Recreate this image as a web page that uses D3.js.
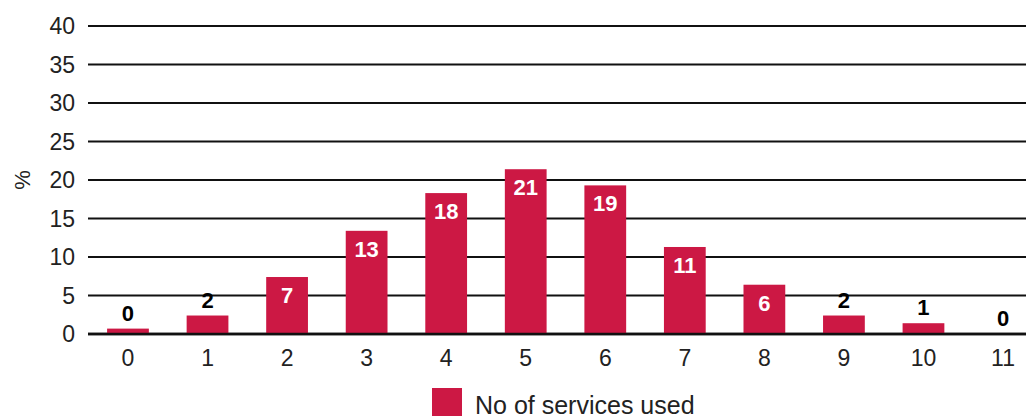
<!DOCTYPE html>
<html>
<head>
<meta charset="utf-8">
<script src="https://cdn.jsdelivr.net/npm/d3@7"></script>
<style>
  body { margin: 0; background: #fff; font-family: "Liberation Sans", Arial, sans-serif; }
  svg { display: block; }
</style>
</head>
<body>
<div id="container"><svg></svg></div>
<script>
let width = 1026;
let height = 416;

// data
let categories = ['0', '1', '2', '3', '4', '5', '6', '7', '8', '9', '10', '11'];
let values = [0.7, 2.4, 7.4, 13.4, 18.3, 21.4, 19.3, 11.3, 6.4, 2.4, 1.4, 0];
let labels = ['0', '2', '7', '13', '18', '21', '19', '11', '6', '2', '1', '0'];
let yTicks = [0, 5, 10, 15, 20, 25, 30, 35, 40];
let seriesName = 'No of services used';

let barColor = '#cc1844';
let padding = { left: 88, right: -17, top: 26, bottom: 82 };

function draw_main() {
    let svg = d3.select('#container').select('svg')
        .attr('width', width)
        .attr('height', height);

    let x = d3.scaleBand()
        .domain(categories)
        .range([padding.left, width - padding.right])
        .paddingInner(0.475)
        .paddingOuter(0.24);

    let y = d3.scaleLinear()
        .domain([0, 40])
        .range([height - padding.bottom, padding.top]);

    // gridlines
    svg.append('g')
        .selectAll('line')
        .data(yTicks)
        .enter().append('line')
        .attr('x1', padding.left)
        .attr('x2', width)
        .attr('y1', d => y(d))
        .attr('y2', d => y(d))
        .attr('stroke', '#111')
        .attr('stroke-width', d => d == 0 ? 2.5 : 2);

    // y tick labels
    svg.append('g')
        .selectAll('text')
        .data(yTicks)
        .enter().append('text')
        .attr('x', 75)
        .attr('y', d => y(d))
        .attr('dy', '0.36em')
        .attr('text-anchor', 'end')
        .attr('font-size', 23)
        .attr('fill', '#222')
        .text(d => d);

    // y axis title
    svg.append('text')
        .attr('transform', `translate(30, ${y(20)}) rotate(-90)`)
        .attr('text-anchor', 'middle')
        .attr('font-size', 22)
        .attr('fill', '#222')
        .text('%');

    // bars
    svg.append('g')
        .selectAll('rect')
        .data(values)
        .enter().append('rect')
        .attr('x', (d, i) => x(categories[i]))
        .attr('y', d => y(d))
        .attr('width', x.bandwidth())
        .attr('height', d => y(0) - y(d))
        .attr('fill', barColor);

    // redraw baseline on top of bars
    svg.append('line')
        .attr('x1', padding.left)
        .attr('x2', width)
        .attr('y1', y(0))
        .attr('y2', y(0))
        .attr('stroke', '#111')
        .attr('stroke-width', 2.5);

    // value labels
    svg.append('g')
        .selectAll('text')
        .data(values)
        .enter().append('text')
        .attr('x', (d, i) => x(categories[i]) + x.bandwidth() / 2)
        .attr('y', d => d > 5 ? y(d) + 26 : y(d) - 8)
        .attr('text-anchor', 'middle')
        .attr('font-size', 22)
        .attr('font-weight', 'bold')
        .attr('fill', d => d > 5 ? '#fff' : '#000')
        .text((d, i) => labels[i]);

    // x tick labels
    svg.append('g')
        .selectAll('text')
        .data(categories)
        .enter().append('text')
        .attr('x', d => x(d) + x.bandwidth() / 2)
        .attr('y', 366)
        .attr('text-anchor', 'middle')
        .attr('font-size', 23)
        .attr('fill', '#222')
        .text(d => d);

    // legend
    let legend = svg.append('g')
        .attr('transform', 'translate(432, 388)');
    legend.append('rect')
        .attr('width', 30)
        .attr('height', 30)
        .attr('fill', barColor);
    legend.append('text')
        .attr('x', 43)
        .attr('y', 26)
        .attr('font-size', 25)
        .attr('fill', '#222')
        .text(seriesName);
}

draw_main();
</script>
</body>
</html>
